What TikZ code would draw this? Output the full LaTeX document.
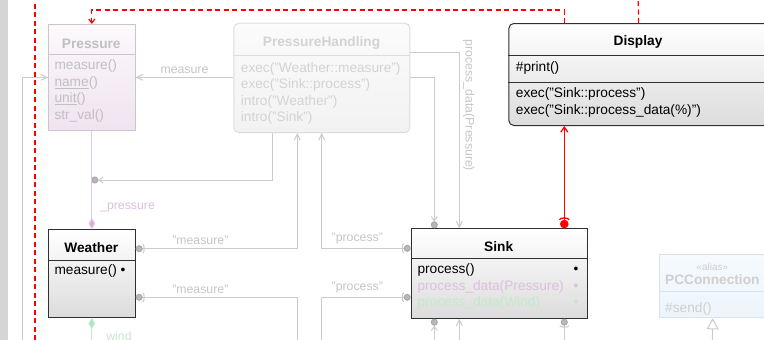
\documentclass[tikz,border=0pt]{standalone}
\usepackage{fontspec}
\setmainfont{Liberation Sans}
\usetikzlibrary{arrows.meta,positioning}

\definecolor{sideGray}{HTML}{D5D5D5}
\definecolor{boxDark}{HTML}{303030}
\definecolor{boxBottom}{HTML}{DCDCDC}
\definecolor{pinkEdge}{HTML}{CCC6CC}
\definecolor{pinkTop}{HTML}{FCF9FC}
\definecolor{pinkBottom}{HTML}{EFE3EF}
\definecolor{pressureTxt}{HTML}{C0C0C0}
\definecolor{handlingEdge}{HTML}{DDDDDD}
\definecolor{handlingTop}{HTML}{FBFBFB}
\definecolor{handlingBottom}{HTML}{F2F2F2}
\definecolor{handlingTxt}{HTML}{D3D3D3}
\definecolor{pcEdge}{HTML}{D9E3EB}
\definecolor{pcTop}{HTML}{F6FAFE}
\definecolor{pcBottom}{HTML}{ECF5FC}
\definecolor{pcTxt}{HTML}{CFCFCF}
\definecolor{linkGray}{HTML}{CBCBCB}
\definecolor{lblGray}{HTML}{C6C6C6}
\definecolor{ballFill}{HTML}{B8B8B8}
\definecolor{ballEdge}{HTML}{AAAAAA}
\definecolor{pinkLine}{HTML}{E3C8E3}
\definecolor{pinkFill}{HTML}{D6AED6}
\definecolor{pinkTxt}{HTML}{DDBFDD}
\definecolor{greenLine}{HTML}{C6ECCE}
\definecolor{greenFill}{HTML}{B3E3BD}
\definecolor{greenTxt}{HTML}{C2E9CA}
\definecolor{umlRed}{HTML}{FF0000}

\tikzset{
    %Define standard arrow tip
    >={Straight Barb[length=6pt,width=6pt]},
    %Define styles for class boxes
    classbox/.style={
           rectangle,
           anchor=north west,
           inner sep=0pt,
           draw=boxDark, line width=1pt,
           top color=white,
           bottom color=boxBottom},
    pinkbox/.style={draw=pinkEdge, top color=pinkTop, bottom color=pinkBottom},
    greybox/.style={draw=handlingEdge, top color=handlingTop, bottom color=handlingBottom},
    bluebox/.style={draw=pcEdge, top color=pcTop, bottom color=pcBottom},
    boxtitle/.style={
           anchor=base,
           inner sep=0pt,
           font=\fontsize{13.7}{16.5}\selectfont\bfseries},
    boxitems/.style={
           anchor=north west,
           inner sep=0pt,
           align=left,
           font=\fontsize{13.7}{16.5}\selectfont},
    stereo/.style={
           anchor=base,
           inner sep=0pt,
           font=\fontsize{10}{12}\selectfont},
    % Define connector styles
    link/.style={draw=linkGray, line width=1pt},
    lbl/.style={font=\fontsize{12.3}{14}\selectfont, text=lblGray},
    ballend/.style={arrows={-{Straight Barb[length=4pt,width=6pt] Circle[length=7pt,fill=ballFill,color=ballEdge]}}},
    sockopen/.style={arrows={{Circle[length=7pt,fill=ballFill,color=ballEdge] Arc Barb[reversed,length=2pt,width=10pt]}-{Straight Barb[length=6pt,width=6pt]}}},
    sockplain/.style={arrows={{Circle[length=7pt,fill=ballFill,color=ballEdge] Arc Barb[reversed,length=2pt,width=10pt]}-}},
    redlink/.style={draw=umlRed, line width=1.3pt},
    redsock/.style={arrows={{Circle[length=8.5pt] Arc Barb[reversed,length=2.5pt,width=11pt]}-{Straight Barb[length=5pt,width=7pt]}}},
    reddash/.style={draw=umlRed, line width=1.2pt, dash pattern=on 5pt off 3.5pt},
    pinklink/.style={draw=pinkLine, line width=1pt},
    greenlink/.style={draw=greenLine, line width=1pt}
}

\begin{document}
\begin{tikzpicture}[x=1pt,y=-1pt]
\path[use as bounding box, clip] (0,0) rectangle (764,340);
\fill[white] (0,0) rectangle (764,340);
\fill[sideGray] (0,0) rectangle (7.5,340);

 %classes
\node[classbox, pinkbox, minimum width=86.7pt, minimum height=106pt] (pressure) at (48,24) {};
\node[classbox, greybox, rounded corners=5pt, minimum width=176pt, minimum height=109.3pt] (handling) at (233.3,22.7) {};
\node[classbox, rounded corners=5pt, minimum width=259.7pt, minimum height=102pt] (display) at (508.3,23) {};
\node[classbox, minimum width=86.7pt, minimum height=87.4pt] (weather) at (48,229.3) {};
\node[classbox, minimum width=176pt, minimum height=89.4pt] (sink) at (410.7,228.3) {};
\node[classbox, bluebox, minimum width=106pt, minimum height=63.3pt] (pcconn) at (659.3,254) {};

 %compartments
\draw[pinkEdge, line width=1pt] (pressure.west |- 0,54) -- (pressure.east |- 0,54);
\draw[handlingEdge, line width=1pt] (handling.west |- 0,55.3) -- (handling.east |- 0,55.3);
\draw[boxDark, line width=1pt] (display.west |- 0,55) -- (display.east |- 0,55);
\draw[boxDark, line width=1pt] (display.west |- 0,82) -- (display.east |- 0,82);
\draw[boxDark, line width=1pt] (weather.west |- 0,260) -- (weather.east |- 0,260);
\draw[boxDark, line width=1pt] (sink.west |- 0,258.3) -- (sink.east |- 0,258.3);
\draw[pcEdge, line width=1pt] (pcconn.west |- 0,291.7) -- (pcconn.east |- 0,291.7);

 %texts
\node[boxtitle, text=pressureTxt] (pressureName) at (91.3,48.2) {Pressure};
\node[boxitems, text=pressureTxt] (pressureOps) at (54.3,59.7) {measure()\\\underline{name}()\\\underline{unit}()\\str\_val()};
\node[boxtitle, text=handlingTxt] (handlingName) at (321.5,46) {PressureHandling};
\node[boxitems, text=handlingTxt] (handlingOps) at (240.7,62) {exec("Weather::measure")\\exec("Sink::process")\\intro("Weather")\\intro("Sink")};
\node[boxtitle] (displayName) at (638,45.8) {Display};
\node[boxitems] (displayAttr) at (515.7,61) {\#print()};
\node[boxitems] (displayOps) at (515.7,87.7) {exec("Sink::process")\\exec("Sink::process\_data(\%)")};
\node[boxtitle] (weatherName) at (91.3,252.5) {Weather};
\node[boxitems] (weatherOps) at (54.3,264.3) {measure()~\textbullet};
\node[boxtitle] (sinkName) at (498.7,251.7) {Sink};
\node[boxitems, text width=161pt] (sinkOps) at (417.3,263.5) {process()\hfill\textbullet\\
  \textcolor{pinkTxt}{process\_data(Pressure)\hfill\textbullet}\\
  \textcolor{greenTxt}{process\_data(Wind)\hfill\textbullet}};
\node[stereo, text=pcTxt] (pcconnStereo) at (712.3,270) {«alias»};
\node[boxtitle, text=pcTxt] (pcconnName) at (712.3,284.8) {PCConnection};
\node[boxitems, text=pcTxt] (pcconnOps) at (665,302.3) {\#send()};

 %ends outside the picture
\coordinate (leftIn) at (22.7,345);
\coordinate (dashLeftTop) at (35,-5);
\coordinate (dashLeftBot) at (35,345);
\coordinate (displayUp) at (638,-5);
\coordinate (measureDown) at (297.3,345);
\coordinate (processDown) at (321.7,345);
\coordinate (windDown) at (91.35,345);
\coordinate (sinkDownA) at (434.3,345);
\coordinate (sinkDownB) at (459.3,345);
\coordinate (sinkDownC) at (564.3,345);
\coordinate (pcconnDown) at (712.3,345);
\coordinate (pressureLink) at (91.35,180);

 %connectors
\draw[link,->] (leftIn) |- (pressure.west |- 0,77.3);
\draw[link,->] (handling.west |- 0,77.3) -- (pressure.east |- 0,77.3)
    node[lbl, midway, above] {measure};
\draw[link,->] (handling.east |- 0,52.3) -| (sink.north -| 459.3,0)
    node[lbl, pos=0.651, rotate=-90, anchor=south] {process\_data(Pressure)};
\draw[link,ballend] (handling.east |- 0,77.3) -| (sink.north -| 434.3,0);
\draw[link,ballend] (handling.south -| 272.7,0) |- (pressureLink);
\draw[link,sockopen] (weather.east |- 0,248.7) -| (handling.south -| 297.3,0)
    node[lbl, pos=0.2, above] {"measure"};
\draw[link,sockplain] (weather.east |- 0,297.3) -| (measureDown)
    node[lbl, pos=0.2, above] {"measure"};
\draw[link,sockopen] (sink.west |- 0,248.3) -| (handling.south -| 321.7,0)
    node[lbl, pos=0.3, above] {"process"};
\draw[link,sockplain] (sink.west |- 0,297.3) -| (processDown)
    node[lbl, pos=0.3, above] {"process"};
\draw[link,ballend] (sinkDownA) -- (sink.south -| 434.3,0);
\draw[link,->] (sinkDownB) -- (sink.south -| 459.3,0);
\draw[link,sockplain] (sink.south -| 564.3,0) -- (sinkDownC);
\draw[link,-{Triangle[open,length=11pt,width=12pt]}] (pcconnDown) -- (pcconn.south);

\draw[pinklink,{Diamond[length=11.6pt,width=6.7pt,fill=pinkFill]}-] (weather.north) -- (pressure.south)
    node[lbl, text=pinkTxt, pos=0.22, right=4.5pt] {\_pressure};
\draw[greenlink,{Diamond[length=11.6pt,width=6.7pt,fill=greenFill]}-] (weather.south) -- (windDown)
    node[lbl, text=greenTxt, pos=0.66, right=11pt] {wind};

\draw[redlink,redsock] (sink.north -| 564.3,0) -- (display.south -| 564.3,0);
\draw[reddash,-{Straight Barb[length=4pt,width=6pt]}] (display.north -| 564.3,0) |- (pressure.north |- 0,10) -- (pressure.north);
\draw[reddash] (display.north) -- (displayUp);
\draw[reddash] (dashLeftTop) -- (dashLeftBot);
\end{tikzpicture}
\end{document}
